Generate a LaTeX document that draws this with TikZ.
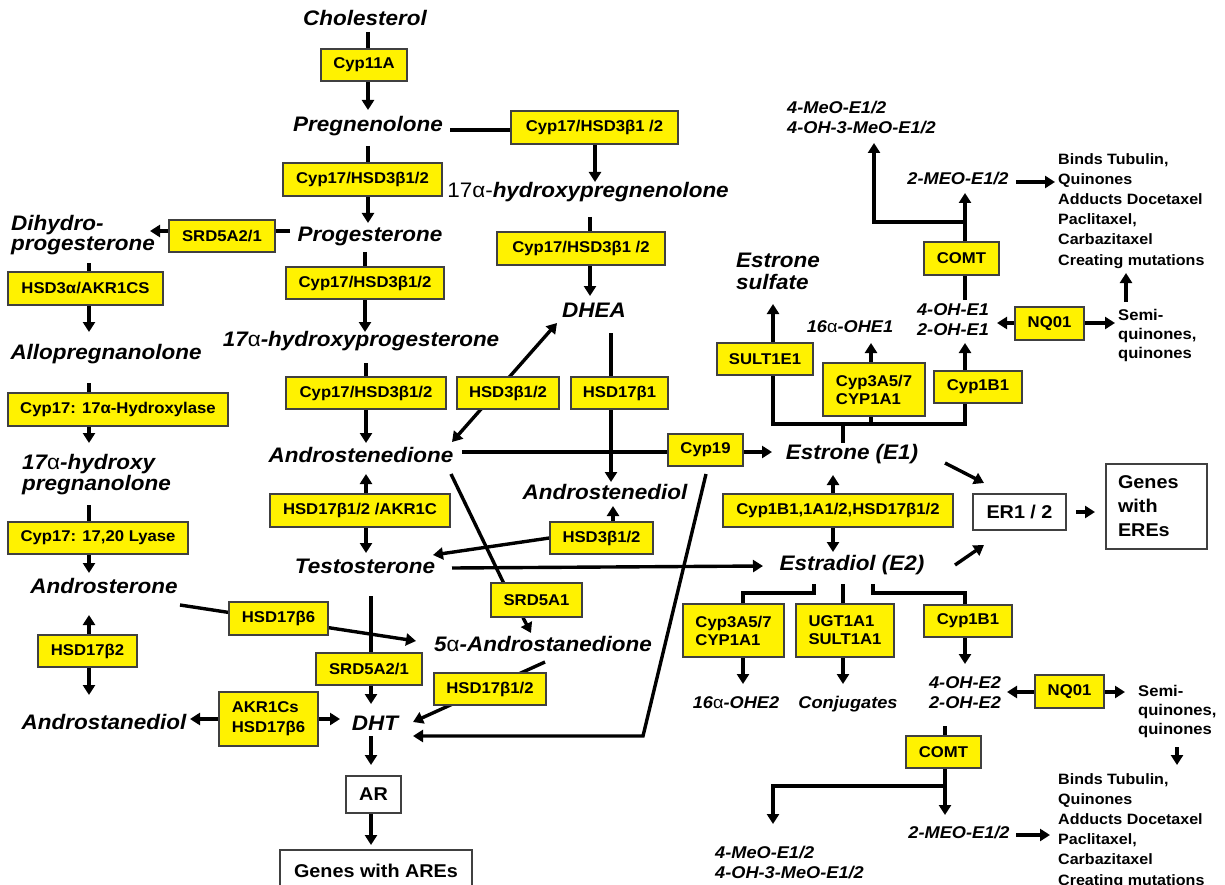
\documentclass[tikz,border=0pt]{standalone}
\usepackage{fontspec}
\setmainfont{Liberation Sans}[FakeStretch=1.07]
\usetikzlibrary{arrows.meta}
\pgfdeclarelayer{back}
\pgfdeclarelayer{conn}
\pgfsetlayers{back,conn,main}
\newcommand\ua{{\mdseries\upshape α}}
\newcommand\bx[7]{%
  \pgfmathsetmacro\bxw{#5-#3}\pgfmathsetmacro\bxh{#6-#4}%
  \pgfmathsetmacro\bxx{(#3+#5)/2}\pgfmathsetmacro\bxy{(#4+#6)/2}%
  \node[#1,minimum width=\bxw pt,minimum height=\bxh pt] (#2) at (\bxx,\bxy) {#7};}
\tikzset{
  enz/.style={draw=black!75,line width=1.3pt,fill=yellow,font=\fontsize{15.6}{18}\selectfont\bfseries,inner sep=0pt,align=left},
  wbox/.style={draw=black!75,line width=1.3pt,fill=white,font=\fontsize{18.5}{24}\selectfont\bfseries,inner sep=0pt,align=left},
  met/.style={font=\fontsize{21}{20}\selectfont\bfseries\itshape,inner sep=0pt},
  smet/.style={font=\fontsize{17}{20}\selectfont\bfseries\itshape,inner sep=0pt},
  note/.style={font=\fontsize{15}{20.2}\selectfont\bfseries,inner sep=0pt,align=left},
  ln/.style={line width=3.4pt},
  arr/.style={line width=3.4pt,-{Triangle[length=10pt,width=12pt]}},
  darr/.style={line width=3.4pt,{Triangle[length=10pt,width=12pt]}-{Triangle[length=10pt,width=12pt]}},
}
\begin{document}
\begin{tikzpicture}[x=1pt,y=-1pt]
\useasboundingbox (0,0) rectangle (1225,885);
\begin{pgfonlayer}{back}
\fill[white] (0,0) rectangle (1225,885);
\end{pgfonlayer}

% ---------- enzyme boxes ----------
\bx{enz}{cyp11a}{321}{49}{407}{81}{Cyp11A}
\bx{enz}{cypA}{283}{163}{442}{196}{Cyp17/HSD3β1/2}
\bx{enz}{srdA}{169}{220}{275}{252}{SRD5A2/1}
\bx{enz}{hsd3a}{8}{272}{163}{305}{HSD3α/AKR1CS}
\bx{enz}{cypB}{286}{267}{444}{299}{Cyp17/HSD3β1/2}
\bx{enz}{cypC}{511}{111}{678}{144}{Cyp17/HSD3β1 /2}
\bx{enz}{cypD}{497}{232}{665}{265}{Cyp17/HSD3β1 /2}
\bx{enz}{cypE}{286}{377}{446}{409}{Cyp17/HSD3β1/2}
\bx{enz}{hsd3b}{457}{377}{559}{409}{HSD3β1/2}
\bx{enz}{hsd17b1}{571}{377}{668}{409}{HSD17β1}
\bx{enz}{cyp17h}{8}{393}{228}{426}{Cyp17: 17α-Hydroxylase}
\bx{enz}{cyp17l}{8}{522}{188}{554}{Cyp17: 17,20 Lyase}
\bx{enz}{hsdAK}{270}{494}{450}{527}{HSD17β1/2 /AKR1C}
\bx{enz}{hsd3c}{550}{522}{653}{554}{HSD3β1/2}
\bx{enz}{cyp19}{668}{434}{743}{466}{Cyp19}
\bx{enz}{srd5a1}{491}{583}{582}{617}{SRD5A1}
\bx{enz}{hsd17b6}{229}{602}{328}{635}{HSD17β6}
\bx{enz}{hsd17b2}{38}{635}{137}{667}{HSD17β2}
\bx{enz}{srdB}{316}{653}{422}{685}{SRD5A2/1}
\bx{enz}{akr}{219}{692}{318}{746}{AKR1Cs\\[2pt]HSD17β6}
\bx{enz}{hsd12}{434}{673}{546}{705}{HSD17β1/2}
\bx{enz}{sult1e1}{717}{343}{813}{375}{SULT1E1}
\bx{enz}{cyp3a}{823}{363}{925}{416}{Cyp3A5/7\\CYP1A1}
\bx{enz}{cyp1b1a}{934}{371}{1022}{403}{Cyp1B1}
\bx{enz}{nq01a}{1015}{307}{1084}{340}{NQ01}
\bx{enz}{comta}{924}{242}{999}{275}{COMT}
\bx{enz}{cyp1big}{723}{494}{953}{527}{Cyp1B1,1A1/2,HSD17β1/2}
\bx{enz}{cyp3b}{683}{604}{784}{657}{Cyp3A5/7\\CYP1A1}
\bx{enz}{ugt}{796}{604}{894}{657}{UGT1A1\\SULT1A1}
\bx{enz}{cyp1b1b}{924}{605}{1012}{637}{Cyp1B1}
\bx{enz}{nq01b}{1035}{675}{1104}{708}{NQ01}
\bx{enz}{comtb}{906}{736}{981}{768}{COMT}

% ---------- white boxes ----------
\bx{wbox}{ar}{346}{776}{401}{813}{AR}
\bx{wbox}{gare}{280}{850}{472}{892}{Genes with AREs}
\bx{wbox}{er}{973}{494}{1066}{530}{ER1 / 2}
\bx{wbox,text width=77pt}{gere}{1106}{464}{1207}{549}{Genes\\with\\EREs}

% ---------- metabolites ----------
\node[met,anchor=base] (chol) at (365,26) {Cholesterol};
\node[met,anchor=base] (preg) at (368,132) {Pregnenolone};
\node[met,anchor=base] (prog) at (370,241) {Progesterone};
\node[met,anchor=base] (ohpreg) at (588,198) {{\mdseries\upshape 17α-}hydroxypregnenolone};
\node[met,anchor=base] (ohprog) at (361,346) {17\ua-hydroxyprogesterone};
\node[met,anchor=base] (dhea) at (594,317) {DHEA};
\node[met,anchor=base] (adione) at (361,462) {Androstenedione};
\node[met,anchor=base] (adiol) at (605,499) {Androstenediol};
\node[met,anchor=base] (testo) at (365,573) {Testosterone};
\node[met,anchor=base] (aand) at (543,651) {5\ua-Androstanedione};
\node[met,anchor=base] (andro) at (104,593) {Androsterone};
\node[met,anchor=base] (adiol2) at (104,729) {Androstanediol};
\node[met,anchor=base] (dht) at (375,730) {DHT};
\node[met,anchor=base] (allo) at (106,359) {Allopregnanolone};
\node[met,anchor=base] (e1) at (852,459) {Estrone (E1)};
\node[met,anchor=base] (e2) at (852,570) {Estradiol (E2)};
\node[met,anchor=north west,align=left] (dhp) at (11,215) {Dihydro-\\progesterone};
\node[met,anchor=north west,align=left,font=\fontsize{21}{21}\selectfont\bfseries\itshape] (ohpn) at (22,454) {17\ua-hydroxy\\pregnanolone};
\node[met,anchor=north west,align=left,font=\fontsize{21}{22}\selectfont\bfseries\itshape] (es) at (736,253) {Estrone\\sulfate};

\node[smet,anchor=base] (ohe1) at (850,332) {16\ua-OHE1};
\node[smet,anchor=north,align=center] (oh1) at (953,303) {4-OH-E1\\2-OH-E1};
\node[smet,anchor=base] (meo1) at (958,185) {2-MEO-E1/2};
\node[smet,anchor=north west,align=left] (mo1) at (787,101) {4-MeO-E1/2\\4-OH-3-MeO-E1/2};
\node[smet,anchor=base] (ohe2) at (736,708) {16\ua-OHE2};
\node[smet,anchor=base] (conj) at (848,708) {Conjugates};
\node[smet,anchor=north,align=center] (oh2) at (965,676) {4-OH-E2\\2-OH-E2};
\node[smet,anchor=base] (meo2) at (959,838) {2-MEO-E1/2};
\node[smet,anchor=north west,align=left] (mo2) at (715,846) {4-MeO-E1/2\\4-OH-3-MeO-E1/2};

\node[note,anchor=north west] (bt1) at (1058,153) {Binds Tubulin,\\Quinones\\Adducts Docetaxel\\Paclitaxel,\\Carbazitaxel\\Creating mutations};
\node[note,anchor=north west,font=\fontsize{15.5}{19}\selectfont\bfseries] (sq1) at (1118,309) {Semi-\\quinones,\\quinones};
\node[note,anchor=north west,font=\fontsize{15.5}{19}\selectfont\bfseries] (sq2) at (1138,685) {Semi-\\quinones,\\quinones};
\node[note,anchor=north west] (bt2) at (1058,773) {Binds Tubulin,\\Quinones\\Adducts Docetaxel\\Paclitaxel,\\Carbazitaxel\\Creating mutations};

% ---------- connector end points ----------
\coordinate (a1) at (368,32);  \coordinate (a2) at (368,110);
\coordinate (a3) at (368,146); \coordinate (a4) at (368,223);
\coordinate (b1) at (365,252); \coordinate (b2) at (365,332);
\coordinate (b3) at (366,363); \coordinate (b4) at (366,443);
\coordinate (b5) at (366,474); \coordinate (b6) at (366,553);
\coordinate (b7) at (371,596); \coordinate (b8) at (371,704);
\coordinate (b9) at (371,736); \coordinate (b10) at (371,765);
\coordinate (b11) at (371,845);
\coordinate (p1) at (290,231); \coordinate (p2) at (150,231);
\coordinate (d1) at (89,263); \coordinate (d2) at (89,332);
\coordinate (d3) at (89,383); \coordinate (d4) at (89,443);
\coordinate (d5) at (89,505); \coordinate (d6) at (89,573);
\coordinate (d7) at (89,615); \coordinate (d8) at (89,695);
\coordinate (e1s) at (180,605); \coordinate (e2s) at (416,641);
\coordinate (e3) at (190,719); \coordinate (e4) at (340,719);
\coordinate (f1) at (450,130); \coordinate (f2) at (595,182);
\coordinate (f3) at (590,217); \coordinate (f4) at (590,296);
\coordinate (g1) at (452,442); \coordinate (g2) at (557,323);
\coordinate (g3) at (611,333); \coordinate (g4) at (611,482);
\coordinate (h1) at (462,452); \coordinate (h2) at (772,452);
\coordinate (h3) at (451,474); \coordinate (h4) at (507,590);
\coordinate (h5) at (523,617); \coordinate (h6) at (531,633);
\coordinate (h7) at (545,662); \coordinate (h8) at (413,722);
\coordinate (k1) at (706,474); \coordinate (k2) at (643,736); \coordinate (k3) at (413,736);
\coordinate (m1) at (613,506); \coordinate (m2) at (433,555);
\coordinate (m4) at (452,568); \coordinate (m5) at (763,566);
\coordinate (n1) at (773,304); \coordinate (n2) at (773,424); \coordinate (n3) at (965,424);
\coordinate (n4) at (871,424); \coordinate (n5) at (843,424); \coordinate (n6) at (843,443);
\coordinate (n7) at (871,343); \coordinate (n8) at (965,343);
\coordinate (n9) at (997,323); \coordinate (n10) at (1115,323);
\coordinate (n11) at (965,300); \coordinate (n12) at (965,222); \coordinate (n13) at (965,193);
\coordinate (n14) at (874,222); \coordinate (n15) at (874,143);
\coordinate (n16) at (1016,182); \coordinate (n17) at (1055,182);
\coordinate (n18) at (1126,302); \coordinate (n19) at (1126,273);
\coordinate (o1) at (833,475); \coordinate (o2) at (833,552);
\coordinate (o3) at (945,463); \coordinate (o4) at (984,483);
\coordinate (o5) at (955,565); \coordinate (o6) at (984,545);
\coordinate (o7) at (1076,512); \coordinate (o8) at (1095,512);
\coordinate (q1) at (814,584); \coordinate (q1b) at (814,593); \coordinate (q2) at (743,593);
\coordinate (q3) at (843,584);
\coordinate (q4) at (873,584); \coordinate (q4b) at (873,593); \coordinate (q4c) at (965,593);
\coordinate (q5) at (743,684); \coordinate (q6) at (843,684); \coordinate (q7) at (965,664);
\coordinate (q8) at (1007,692); \coordinate (q9) at (1125,692);
\coordinate (q10) at (1177,747); \coordinate (q11) at (1177,765);
\coordinate (q12) at (945,726); \coordinate (q13) at (945,786); \coordinate (q14) at (945,815);
\coordinate (q15) at (773,786); \coordinate (q16) at (773,824);
\coordinate (q17) at (1016,835); \coordinate (q18) at (1050,835);

% ---------- connectors ----------
\begin{pgfonlayer}{conn}
\draw[ln] (a1) -- (a1 |- cyp11a.north);
\draw[arr] (a2 |- cyp11a.south) -- (a2);
\draw[ln] (a3) -- (a3 |- cypA.north);
\draw[arr] (a4 |- cypA.south) -- (a4);
\draw[ln] (b1) -- (b1 |- cypB.north);
\draw[arr] (b2 |- cypB.south) -- (b2);
\draw[ln] (b3) -- (b3 |- cypE.north);
\draw[arr] (b4 |- cypE.south) -- (b4);
\draw[arr] (b5 |- hsdAK.north) -- (b5);
\draw[arr] (b6 |- hsdAK.south) -- (b6);
\draw[ln] (b7) -- (b7 |- srdB.north);
\draw[arr] (b8 |- srdB.south) -- (b8);
\draw[arr] (b9) -- (b10);
\draw[arr] (b11 |- ar.south) -- (b11);
\draw[ln] (p1) -- (p1 -| srdA.east);
\draw[arr] (srdA.west |- p2) -- (p2);
\draw[ln] (d1) -- (d1 |- hsd3a.north);
\draw[arr] (d2 |- hsd3a.south) -- (d2);
\draw[ln] (d3) -- (d3 |- cyp17h.north);
\draw[arr] (d4 |- cyp17h.south) -- (d4);
\draw[ln] (d5) -- (d5 |- cyp17l.north);
\draw[arr] (d6 |- cyp17l.south) -- (d6);
\draw[arr] (d7 |- hsd17b2.north) -- (d7);
\draw[arr] (d8 |- hsd17b2.south) -- (d8);
\draw[arr] (e1s) -- (e2s);
\draw[arr] (akr.west |- e3) -- (e3);
\draw[arr] (akr.east |- e4) -- (e4);
\draw[ln] (f1) -- (f1 -| cypC.west);
\draw[arr] (f2 |- cypC.south) -- (f2);
\draw[ln] (f3) -- (f3 |- cypD.north);
\draw[arr] (f4 |- cypD.south) -- (f4);
\draw[darr] (g1) -- (g2);
\draw[arr] (g3) -- (g4);
\draw[ln] (h1) -- (h1 -| cyp19.west);
\draw[arr] (cyp19.east |- h2) -- (h2);
\draw[ln] (h3) -- (h4);
\draw[arr] (h5 |- srd5a1.south) -- (h6);
\draw[arr] (h7) -- (h8);
\draw[arr] (k1) -- (k2) -- (k3);
\draw[arr] (m1 |- hsd3c.north) -- (m1);
\draw[arr] (hsd3c.west) -- (m2);
\draw[arr] (m4) -- (m5);
\draw[arr] (n1 |- sult1e1.north) -- (n1);
\draw[ln] (n1 |- sult1e1.south) -- (n2) -- (n3) -- (n3 |- cyp1b1a.south);
\draw[ln] (n4 |- cyp3a.south) -- (n4);
\draw[ln] (n5) -- (n6);
\draw[arr] (n7 |- cyp3a.north) -- (n7);
\draw[arr] (n8 |- cyp1b1a.north) -- (n8);
\draw[arr] (nq01a.west |- n9) -- (n9);
\draw[arr] (nq01a.east |- n10) -- (n10);
\draw[ln] (n11) -- (n11 |- comta.south);
\draw[ln] (n12 |- comta.north) -- (n12);
\draw[arr] (n12) -- (n13);
\draw[arr] (n12) -- (n14) -- (n15);
\draw[arr] (n16) -- (n17);
\draw[arr] (n18) -- (n19);
\draw[arr] (o1 |- cyp1big.north) -- (o1);
\draw[arr] (o2 |- cyp1big.south) -- (o2);
\draw[arr] (o3) -- (o4);
\draw[arr] (o5) -- (o6);
\draw[arr] (o7) -- (o8);
\draw[ln] (q1) -- (q1b) -- (q2) -- (q2 |- cyp3b.north);
\draw[ln] (q3) -- (q3 |- ugt.north);
\draw[ln] (q4) -- (q4b) -- (q4c) -- (q4c |- cyp1b1b.north);
\draw[arr] (q5 |- cyp3b.south) -- (q5);
\draw[arr] (q6 |- ugt.south) -- (q6);
\draw[arr] (q7 |- cyp1b1b.south) -- (q7);
\draw[arr] (nq01b.west |- q8) -- (q8);
\draw[arr] (nq01b.east |- q9) -- (q9);
\draw[arr] (q10) -- (q11);
\draw[ln] (q12) -- (q12 |- comtb.north);
\draw[ln] (q13 |- comtb.south) -- (q13);
\draw[arr] (q13) -- (q14);
\draw[arr] (q13) -- (q15) -- (q16);
\draw[arr] (q17) -- (q18);
\end{pgfonlayer}
\end{tikzpicture}
\end{document}
